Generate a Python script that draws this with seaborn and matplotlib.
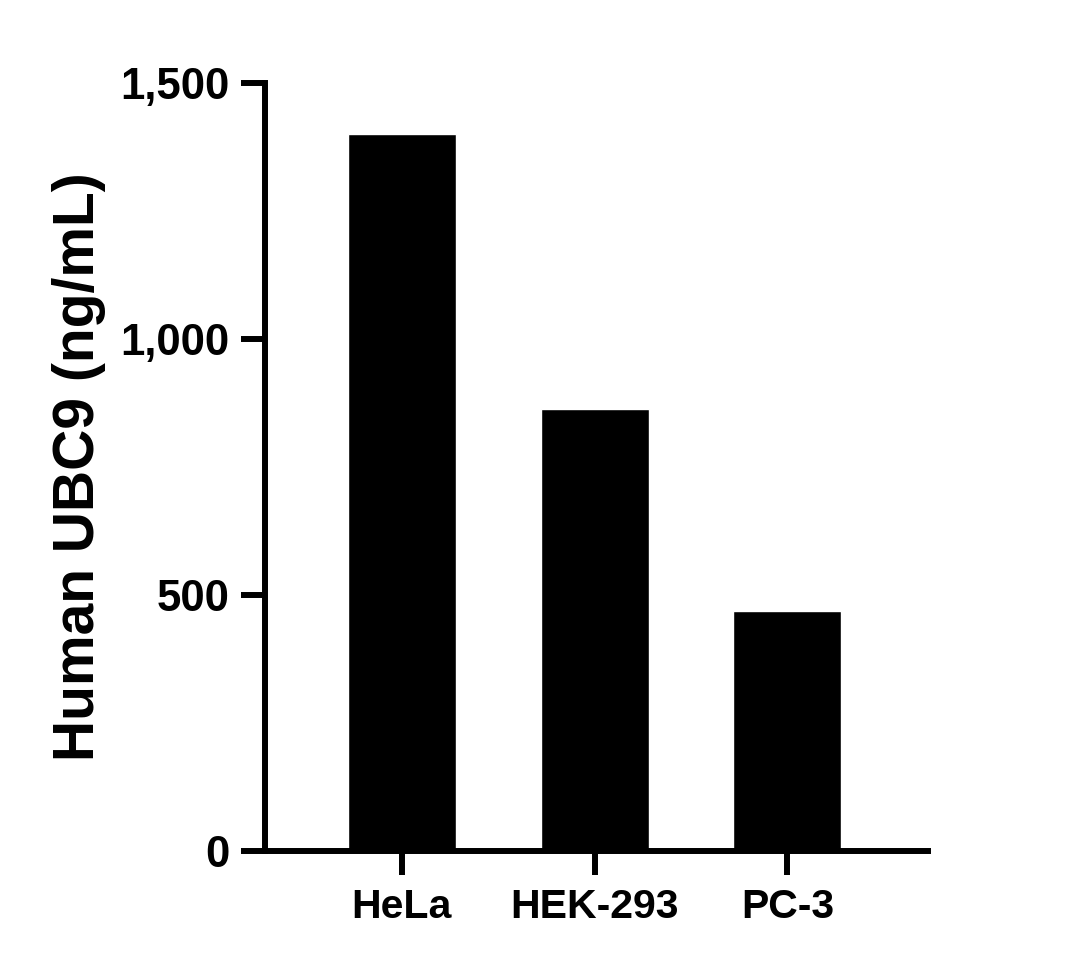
import matplotlib
matplotlib.use("Agg")
import matplotlib.pyplot as plt
import matplotlib.ticker as mticker
import pandas as pd
import seaborn as sns

# --- Data ---
cell_lines = ["HeLa", "HEK-293", "PC-3"]
ubc9_ng_ml = [1400, 863, 469]
y_ticks = [0, 500, 1000, 1500]

df = pd.DataFrame({"cell_line": cell_lines, "ubc9": ubc9_ng_ml})

sns.set_theme(style="ticks")
plt.rcParams["font.family"] = ["Liberation Sans", "DejaVu Sans"]
plt.rcParams["font.weight"] = "bold"
plt.rcParams["text.color"] = "black"
plt.rcParams["axes.labelcolor"] = "black"
plt.rcParams["xtick.color"] = "black"
plt.rcParams["ytick.color"] = "black"

fig = plt.figure(figsize=(10.65, 9.67), dpi=100)
ax = fig.add_axes([0.2488, 0.120, 0.6226, 0.7942])

sns.barplot(data=df, x="cell_line", y="ubc9", color="black",
            saturation=1, width=0.56, ax=ax)

ax.set_xlim(-0.71, 2.73)
ax.set_ylim(0, 1500)
ax.set_yticks(y_ticks)
ax.yaxis.set_major_formatter(mticker.StrMethodFormatter("{x:,.0f}"))

# spines like Prism
sns.despine(ax=ax)
for side in ["left", "bottom"]:
    ax.spines[side].set_linewidth(4.3)
    ax.spines[side].set_color("black")
    ax.spines[side].set_capstyle("projecting")

ax.tick_params(axis="both", which="major", length=17.5, width=4.3,
               color="black", labelcolor="black", direction="out")
ax.tick_params(axis="y", labelsize=31.5, pad=8)
ax.tick_params(axis="x", labelsize=29.5, pad=9)
for lbl in ax.get_xticklabels() + ax.get_yticklabels():
    lbl.set_fontweight("bold")

ax.set_xlabel("")
ax.set_ylabel("Human UBC9 (ng/mL)", fontsize=41, fontweight="bold", color="black")
ax.yaxis.set_label_coords(-0.24, 0.5)

fig.savefig("out.png", dpi=100)
